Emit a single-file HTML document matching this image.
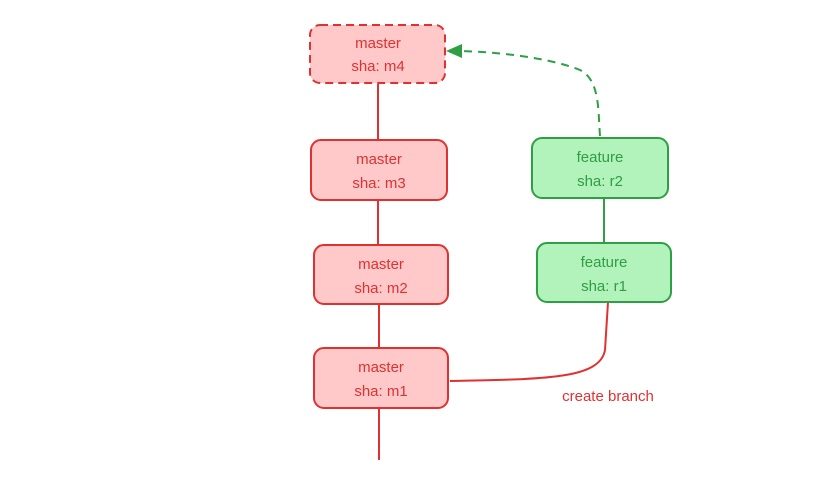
<!DOCTYPE html>
<html><head><meta charset="utf-8"><style>
html,body{margin:0;padding:0;background:#fff;}
svg{display:block}
text{font-family:"Liberation Sans",sans-serif;font-size:15px;text-anchor:middle}
</style></head><body>
<svg width="837" height="479" viewBox="0 0 837 479" xmlns="http://www.w3.org/2000/svg">
<g stroke="#e03131" stroke-width="2" fill="none">
<line x1="378" y1="84" x2="378" y2="140"/>
<line x1="378" y1="200" x2="378" y2="244"/>
<line x1="379" y1="304" x2="379" y2="348"/>
<line x1="379" y1="408" x2="379" y2="460"/>
<path d="M450 381 C540 379 600 380 605 350 L608 302"/>
</g>
<g stroke="#2f9e44" stroke-width="2" fill="none">
<line x1="604" y1="198" x2="604" y2="243"/>
<path d="M600 136 C598 110 600 80 580 70 C550 58 500 52 460 51" stroke-dasharray="8 6"/>
</g>
<polygon points="446,51 462,44 462,58" fill="#2f9e44"/>
<g stroke-width="2">
<rect x="310" y="25" width="135" height="58" rx="10" fill="#ffc9c9" stroke="#e03131" stroke-dasharray="8 5"/>
<rect x="311" y="140" width="136" height="60" rx="10" fill="#ffc9c9" stroke="#e03131"/>
<rect x="314" y="245" width="134" height="59" rx="10" fill="#ffc9c9" stroke="#e03131"/>
<rect x="314" y="348" width="134" height="60" rx="10" fill="#ffc9c9" stroke="#e03131"/>
<rect x="532" y="138" width="136" height="60" rx="10" fill="#b2f2bb" stroke="#2f9e44"/>
<rect x="537" y="243" width="134" height="59" rx="10" fill="#b2f2bb" stroke="#2f9e44"/>
</g>
<g fill="#e03131">
<text x="378" y="48">master</text><text x="378" y="71">sha: m4</text>
<text x="379" y="164">master</text><text x="379" y="188">sha: m3</text>
<text x="381" y="269">master</text><text x="381" y="293">sha: m2</text>
<text x="381" y="372">master</text><text x="381" y="396">sha: m1</text>
<text x="608" y="401">create branch</text>
</g>
<g fill="#2f9e44">
<text x="600" y="162">feature</text><text x="600" y="186">sha: r2</text>
<text x="604" y="267">feature</text><text x="604" y="291">sha: r1</text>
</g>
</svg>
</body></html>
